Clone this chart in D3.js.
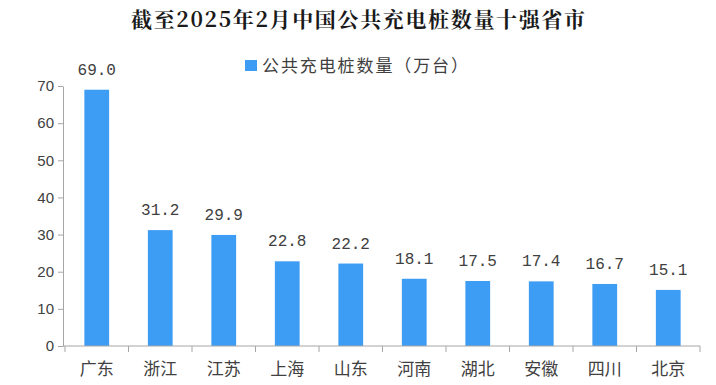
<!DOCTYPE html>
<html lang="zh">
<head>
  <meta charset="UTF-8">
  <title>截至2025年2月中国公共充电桩数量十强省市</title>
  <script src="https://d3js.org/d3.v7.min.js"></script>
  <style>
    body { margin: 0; background: #fff; }
    .axis path, .axis line { stroke: #a6a6a6; }
    .axis text { fill: #404040; }
  </style>
</head>
<body>
<svg id="chart"></svg>

<script>
  // data
  var provinces = ["广东", "浙江", "江苏", "上海", "山东", "河南", "湖北", "安徽", "四川", "北京"];
  var piles = [69.0, 31.2, 29.9, 22.8, 22.2, 18.1, 17.5, 17.4, 16.7, 15.1];
  var yTicks = [0, 10, 20, 30, 40, 50, 60, 70];
  var seriesName = "公共充电桩数量（万台）";
  var title = "截至2025年2月中国公共充电桩数量十强省市";

  var svgWidth = 716, svgHeight = 385;
  var margin = { top: 86, right: 16, bottom: 39, left: 65 };
  var width = svgWidth - margin.left - margin.right;
  var height = svgHeight - margin.top - margin.bottom;
  var barColor = "#3d9cf3";

  var svg = d3.select("#chart")
      .attr("width", svgWidth)
      .attr("height", svgHeight);

  // title
  svg.append("text")
      .attr("x", 358)
      .attr("y", 27)
      .attr("text-anchor", "middle")
      .attr("font-family", "'Noto Serif CJK SC', 'Noto Sans CJK SC', serif")
      .attr("font-weight", "bold")
      .attr("font-size", "21px")
      .attr("textLength", 454)
      .attr("fill", "#1a1a1a")
      .text(title);

  // legend
  svg.append("rect")
      .attr("x", 245).attr("y", 60)
      .attr("width", 12).attr("height", 11)
      .attr("fill", barColor);
  svg.append("text")
      .attr("x", 262)
      .attr("y", 72)
      .attr("font-family", "'Noto Sans CJK SC', sans-serif")
      .attr("font-size", "17px")
      .attr("textLength", 206)
      .attr("fill", "#404040")
      .text(seriesName);

  var g = svg.append("g")
      .attr("transform", "translate(" + margin.left + "," + margin.top + ")");

  var x = d3.scaleBand()
      .domain(provinces)
      .range([0, width])
      .paddingInner(0.61)
      .paddingOuter(0.305);

  var y = d3.scaleLinear()
      .domain([0, 70])
      .range([height, 0]);

  // y axis
  var yAxis = g.append("g")
      .attr("class", "axis")
      .attr("transform", "translate(-2,0)")
      .call(d3.axisLeft(y).tickValues(yTicks).tickSize(5).tickPadding(4).tickSizeOuter(0));
  yAxis.selectAll("text")
      .attr("font-family", "'Liberation Sans', Arial, sans-serif")
      .attr("font-size", "15px");

  // bars
  g.selectAll(".bar")
      .data(piles)
      .enter().append("rect")
      .attr("class", "bar")
      .attr("x", function(d, i) { return x(provinces[i]); })
      .attr("width", x.bandwidth())
      .attr("y", function(d) { return y(d); })
      .attr("height", function(d) { return height - y(d); })
      .attr("fill", barColor);

  // x axis: ticks at band boundaries
  var xAxis = g.append("g")
      .attr("class", "axis")
      .attr("transform", "translate(0," + height + ")");
  xAxis.append("line")
      .attr("x1", -2).attr("x2", width)
      .attr("y1", 0).attr("y2", 0)
      .attr("stroke", "#a6a6a6");
  var step = x.step();
  xAxis.selectAll(".xtick")
      .data(d3.range(provinces.length + 1))
      .enter().append("line")
      .attr("class", "xtick")
      .attr("x1", function(i) { return i * step; })
      .attr("x2", function(i) { return i * step; })
      .attr("y1", 0).attr("y2", 6)
      .attr("stroke", "#a6a6a6");
  xAxis.selectAll(".xlabel")
      .data(provinces)
      .enter().append("text")
      .attr("class", "xlabel")
      .attr("x", function(d) { return x(d) + x.bandwidth() / 2; })
      .attr("y", 29)
      .attr("text-anchor", "middle")
      .attr("font-family", "'Noto Sans CJK SC', sans-serif")
      .attr("font-size", "17px")
      .attr("fill", "#404040")
      .text(function(d) { return d; });

  // value labels
  g.selectAll(".bar-label")
      .data(piles)
      .enter().append("text")
      .attr("class", "bar-label")
      .attr("x", function(d, i) { return x(provinces[i]) + x.bandwidth() / 2; })
      .attr("y", function(d) { return y(d) - 15; })
      .attr("text-anchor", "middle")
      .attr("font-family", "'Liberation Mono', 'DejaVu Sans Mono', monospace")
      .attr("font-size", "16px")
      .attr("fill", "#404040")
      .text(function(d) { return d.toFixed(1); });
</script>
</body>
</html>
